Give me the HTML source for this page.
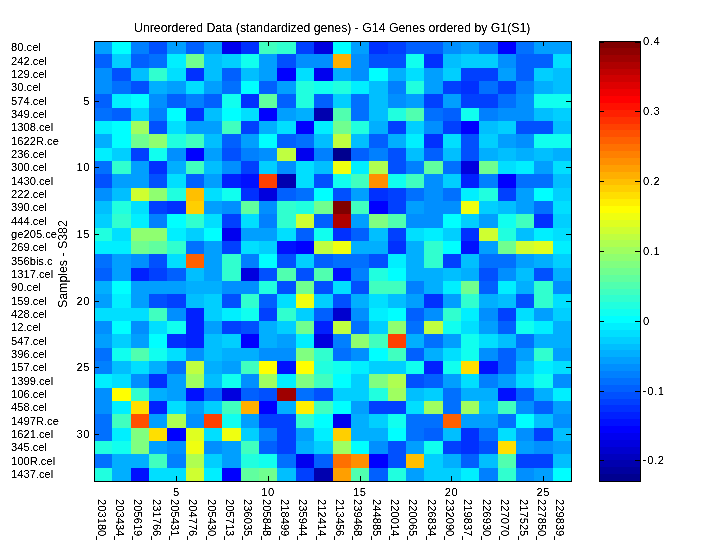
<!DOCTYPE html>
<html><head><meta charset="utf-8"><title>heatmap</title>
<style>
html,body{margin:0;padding:0;background:#fff;width:720px;height:540px;overflow:hidden;}
#wrap{position:absolute;left:0;top:0;width:720px;height:540px;overflow:hidden;background:#fff;}
body{width:720px;height:540px;position:relative;overflow:hidden;font-family:"Liberation Sans",sans-serif;font-size:11.2px;color:#000;}
.t{position:absolute;white-space:nowrap;line-height:1;filter:url(#thr);}
svg{position:absolute;left:0;top:0;}
.cb{letter-spacing:0.6px;}
.yt,.xt{letter-spacing:0.5px;}
</style></head><body><div id="wrap">

<svg width="720" height="540" viewBox="0 0 720 540" shape-rendering="crispEdges">
<defs><filter id="thr" x="-10%" y="-20%" width="120%" height="140%" color-interpolation-filters="sRGB"><feComponentTransfer><feFuncA type="linear" slope="2.6" intercept="-0.7"/></feComponentTransfer></filter></defs>
<rect x="94" y="41" width="18" height="13" fill="#009FFF"/>
<rect x="112" y="41" width="19" height="13" fill="#00FFFF"/>
<rect x="131" y="41" width="18" height="13" fill="#0080FF"/>
<rect x="149" y="41" width="18" height="13" fill="#0050FF"/>
<rect x="167" y="41" width="19" height="13" fill="#009FFF"/>
<rect x="186" y="41" width="18" height="13" fill="#0060FF"/>
<rect x="204" y="41" width="18" height="13" fill="#009FFF"/>
<rect x="222" y="41" width="19" height="13" fill="#0000EF"/>
<rect x="241" y="41" width="18" height="13" fill="#0030FF"/>
<rect x="259" y="41" width="18" height="13" fill="#40FFBF"/>
<rect x="277" y="41" width="19" height="13" fill="#30FFCF"/>
<rect x="296" y="41" width="18" height="13" fill="#0040FF"/>
<rect x="314" y="41" width="19" height="13" fill="#0000DF"/>
<rect x="333" y="41" width="18" height="13" fill="#00FFFF"/>
<rect x="351" y="41" width="18" height="13" fill="#009FFF"/>
<rect x="369" y="41" width="19" height="13" fill="#0030FF"/>
<rect x="388" y="41" width="18" height="13" fill="#0040FF"/>
<rect x="406" y="41" width="37" height="13" fill="#0060FF"/>
<rect x="443" y="41" width="18" height="13" fill="#008FFF"/>
<rect x="461" y="41" width="18" height="13" fill="#009FFF"/>
<rect x="479" y="41" width="19" height="13" fill="#0070FF"/>
<rect x="498" y="41" width="18" height="13" fill="#0000FF"/>
<rect x="516" y="41" width="18" height="13" fill="#0070FF"/>
<rect x="534" y="41" width="38" height="13" fill="#009FFF"/>
<rect x="94" y="54" width="18" height="14" fill="#0060FF"/>
<rect x="112" y="54" width="19" height="14" fill="#00CFFF"/>
<rect x="131" y="54" width="18" height="14" fill="#0060FF"/>
<rect x="149" y="54" width="18" height="14" fill="#0070FF"/>
<rect x="167" y="54" width="19" height="14" fill="#00EFFF"/>
<rect x="186" y="54" width="18" height="14" fill="#70FF8F"/>
<rect x="204" y="54" width="18" height="14" fill="#00BFFF"/>
<rect x="222" y="54" width="19" height="14" fill="#00CFFF"/>
<rect x="241" y="54" width="18" height="14" fill="#10FFEF"/>
<rect x="259" y="54" width="18" height="14" fill="#009FFF"/>
<rect x="277" y="54" width="19" height="14" fill="#0050FF"/>
<rect x="296" y="54" width="37" height="14" fill="#008FFF"/>
<rect x="333" y="54" width="18" height="14" fill="#FFAF00"/>
<rect x="351" y="54" width="18" height="14" fill="#008FFF"/>
<rect x="369" y="54" width="37" height="14" fill="#0050FF"/>
<rect x="406" y="54" width="18" height="14" fill="#10FFEF"/>
<rect x="424" y="54" width="19" height="14" fill="#0030FF"/>
<rect x="443" y="54" width="18" height="14" fill="#00BFFF"/>
<rect x="461" y="54" width="37" height="14" fill="#00CFFF"/>
<rect x="498" y="54" width="18" height="14" fill="#008FFF"/>
<rect x="516" y="54" width="37" height="14" fill="#0060FF"/>
<rect x="553" y="54" width="19" height="14" fill="#00DFFF"/>
<rect x="94" y="68" width="18" height="13" fill="#008FFF"/>
<rect x="112" y="68" width="19" height="13" fill="#0050FF"/>
<rect x="131" y="68" width="18" height="13" fill="#00BFFF"/>
<rect x="149" y="68" width="18" height="13" fill="#30FFCF"/>
<rect x="167" y="68" width="19" height="13" fill="#00DFFF"/>
<rect x="186" y="68" width="18" height="13" fill="#0030FF"/>
<rect x="204" y="68" width="18" height="13" fill="#00BFFF"/>
<rect x="222" y="68" width="19" height="13" fill="#0060FF"/>
<rect x="241" y="68" width="18" height="13" fill="#00BFFF"/>
<rect x="259" y="68" width="18" height="13" fill="#009FFF"/>
<rect x="277" y="68" width="19" height="13" fill="#0000FF"/>
<rect x="296" y="68" width="18" height="13" fill="#00DFFF"/>
<rect x="314" y="68" width="19" height="13" fill="#0000EF"/>
<rect x="333" y="68" width="18" height="13" fill="#00AFFF"/>
<rect x="351" y="68" width="18" height="13" fill="#008FFF"/>
<rect x="369" y="68" width="19" height="13" fill="#00FFFF"/>
<rect x="388" y="68" width="18" height="13" fill="#00AFFF"/>
<rect x="406" y="68" width="18" height="13" fill="#00DFFF"/>
<rect x="424" y="68" width="19" height="13" fill="#009FFF"/>
<rect x="443" y="68" width="18" height="13" fill="#00CFFF"/>
<rect x="461" y="68" width="37" height="13" fill="#0040FF"/>
<rect x="498" y="68" width="18" height="13" fill="#009FFF"/>
<rect x="516" y="68" width="18" height="13" fill="#0060FF"/>
<rect x="534" y="68" width="19" height="13" fill="#00CFFF"/>
<rect x="553" y="68" width="19" height="13" fill="#00BFFF"/>
<rect x="94" y="81" width="18" height="13" fill="#008FFF"/>
<rect x="112" y="81" width="19" height="13" fill="#0070FF"/>
<rect x="131" y="81" width="18" height="13" fill="#0050FF"/>
<rect x="149" y="81" width="18" height="13" fill="#00AFFF"/>
<rect x="167" y="81" width="19" height="13" fill="#009FFF"/>
<rect x="186" y="81" width="18" height="13" fill="#00DFFF"/>
<rect x="204" y="81" width="18" height="13" fill="#009FFF"/>
<rect x="222" y="81" width="19" height="13" fill="#0070FF"/>
<rect x="241" y="81" width="18" height="13" fill="#00FFFF"/>
<rect x="259" y="81" width="18" height="13" fill="#0060FF"/>
<rect x="277" y="81" width="19" height="13" fill="#009FFF"/>
<rect x="296" y="81" width="18" height="13" fill="#20FFDF"/>
<rect x="314" y="81" width="19" height="13" fill="#10FFEF"/>
<rect x="333" y="81" width="18" height="13" fill="#20FFDF"/>
<rect x="351" y="81" width="18" height="13" fill="#00EFFF"/>
<rect x="369" y="81" width="19" height="13" fill="#00BFFF"/>
<rect x="388" y="81" width="18" height="13" fill="#0080FF"/>
<rect x="406" y="81" width="18" height="13" fill="#20FFDF"/>
<rect x="424" y="81" width="19" height="13" fill="#009FFF"/>
<rect x="443" y="81" width="18" height="13" fill="#0040FF"/>
<rect x="461" y="81" width="18" height="13" fill="#0030FF"/>
<rect x="479" y="81" width="19" height="13" fill="#0070FF"/>
<rect x="498" y="81" width="18" height="13" fill="#0040FF"/>
<rect x="516" y="81" width="18" height="13" fill="#0080FF"/>
<rect x="534" y="81" width="19" height="13" fill="#00AFFF"/>
<rect x="553" y="81" width="19" height="13" fill="#00BFFF"/>
<rect x="94" y="94" width="18" height="14" fill="#0060FF"/>
<rect x="112" y="94" width="19" height="14" fill="#00EFFF"/>
<rect x="131" y="94" width="18" height="14" fill="#00FFFF"/>
<rect x="149" y="94" width="18" height="14" fill="#008FFF"/>
<rect x="167" y="94" width="19" height="14" fill="#0060FF"/>
<rect x="186" y="94" width="18" height="14" fill="#0080FF"/>
<rect x="204" y="94" width="18" height="14" fill="#0060FF"/>
<rect x="222" y="94" width="19" height="14" fill="#10FFEF"/>
<rect x="241" y="94" width="18" height="14" fill="#0030FF"/>
<rect x="259" y="94" width="18" height="14" fill="#60FF9F"/>
<rect x="277" y="94" width="19" height="14" fill="#0060FF"/>
<rect x="296" y="94" width="18" height="14" fill="#20FFDF"/>
<rect x="314" y="94" width="19" height="14" fill="#0060FF"/>
<rect x="333" y="94" width="18" height="14" fill="#00CFFF"/>
<rect x="351" y="94" width="18" height="14" fill="#0070FF"/>
<rect x="369" y="94" width="19" height="14" fill="#00BFFF"/>
<rect x="388" y="94" width="18" height="14" fill="#008FFF"/>
<rect x="406" y="94" width="18" height="14" fill="#009FFF"/>
<rect x="424" y="94" width="19" height="14" fill="#0040FF"/>
<rect x="443" y="94" width="18" height="14" fill="#009FFF"/>
<rect x="461" y="94" width="37" height="14" fill="#0040FF"/>
<rect x="498" y="94" width="18" height="14" fill="#0070FF"/>
<rect x="516" y="94" width="18" height="14" fill="#008FFF"/>
<rect x="534" y="94" width="38" height="14" fill="#10FFEF"/>
<rect x="94" y="108" width="18" height="13" fill="#0070FF"/>
<rect x="112" y="108" width="19" height="13" fill="#0060FF"/>
<rect x="131" y="108" width="18" height="13" fill="#00CFFF"/>
<rect x="149" y="108" width="18" height="13" fill="#0080FF"/>
<rect x="167" y="108" width="19" height="13" fill="#00FFFF"/>
<rect x="186" y="108" width="18" height="13" fill="#0030FF"/>
<rect x="204" y="108" width="18" height="13" fill="#00BFFF"/>
<rect x="222" y="108" width="19" height="13" fill="#00FFFF"/>
<rect x="241" y="108" width="18" height="13" fill="#00DFFF"/>
<rect x="259" y="108" width="18" height="13" fill="#0000FF"/>
<rect x="277" y="108" width="19" height="13" fill="#009FFF"/>
<rect x="296" y="108" width="18" height="13" fill="#00AFFF"/>
<rect x="314" y="108" width="19" height="13" fill="#0000AF"/>
<rect x="333" y="108" width="18" height="13" fill="#50FFAF"/>
<rect x="351" y="108" width="18" height="13" fill="#0070FF"/>
<rect x="369" y="108" width="19" height="13" fill="#00BFFF"/>
<rect x="388" y="108" width="18" height="13" fill="#20FFDF"/>
<rect x="406" y="108" width="18" height="13" fill="#50FFAF"/>
<rect x="424" y="108" width="19" height="13" fill="#0070FF"/>
<rect x="443" y="108" width="18" height="13" fill="#0060FF"/>
<rect x="461" y="108" width="18" height="13" fill="#10FFEF"/>
<rect x="479" y="108" width="19" height="13" fill="#0080FF"/>
<rect x="498" y="108" width="36" height="13" fill="#008FFF"/>
<rect x="534" y="108" width="19" height="13" fill="#00BFFF"/>
<rect x="553" y="108" width="19" height="13" fill="#00CFFF"/>
<rect x="94" y="121" width="18" height="13" fill="#00EFFF"/>
<rect x="112" y="121" width="19" height="13" fill="#00FFFF"/>
<rect x="131" y="121" width="18" height="13" fill="#9FFF60"/>
<rect x="149" y="121" width="18" height="13" fill="#0050FF"/>
<rect x="167" y="121" width="19" height="13" fill="#00DFFF"/>
<rect x="186" y="121" width="36" height="13" fill="#009FFF"/>
<rect x="222" y="121" width="19" height="13" fill="#40FFBF"/>
<rect x="241" y="121" width="18" height="13" fill="#0040FF"/>
<rect x="259" y="121" width="18" height="13" fill="#00AFFF"/>
<rect x="277" y="121" width="19" height="13" fill="#00DFFF"/>
<rect x="296" y="121" width="18" height="13" fill="#0000FF"/>
<rect x="314" y="121" width="19" height="13" fill="#00EFFF"/>
<rect x="333" y="121" width="18" height="13" fill="#70FF8F"/>
<rect x="351" y="121" width="18" height="13" fill="#20FFDF"/>
<rect x="369" y="121" width="19" height="13" fill="#00AFFF"/>
<rect x="388" y="121" width="18" height="13" fill="#0040FF"/>
<rect x="406" y="121" width="18" height="13" fill="#00CFFF"/>
<rect x="424" y="121" width="19" height="13" fill="#008FFF"/>
<rect x="443" y="121" width="18" height="13" fill="#0040FF"/>
<rect x="461" y="121" width="18" height="13" fill="#0000FF"/>
<rect x="479" y="121" width="19" height="13" fill="#00BFFF"/>
<rect x="498" y="121" width="18" height="13" fill="#00CFFF"/>
<rect x="516" y="121" width="37" height="13" fill="#0050FF"/>
<rect x="553" y="121" width="19" height="13" fill="#00BFFF"/>
<rect x="94" y="134" width="18" height="14" fill="#00AFFF"/>
<rect x="112" y="134" width="19" height="14" fill="#00FFFF"/>
<rect x="131" y="134" width="18" height="14" fill="#70FF8F"/>
<rect x="149" y="134" width="18" height="14" fill="#8FFF70"/>
<rect x="167" y="134" width="19" height="14" fill="#20FFDF"/>
<rect x="186" y="134" width="18" height="14" fill="#40FFBF"/>
<rect x="204" y="134" width="18" height="14" fill="#00BFFF"/>
<rect x="222" y="134" width="19" height="14" fill="#0060FF"/>
<rect x="241" y="134" width="18" height="14" fill="#009FFF"/>
<rect x="259" y="134" width="18" height="14" fill="#00FFFF"/>
<rect x="277" y="134" width="19" height="14" fill="#0060FF"/>
<rect x="296" y="134" width="18" height="14" fill="#0070FF"/>
<rect x="314" y="134" width="19" height="14" fill="#00BFFF"/>
<rect x="333" y="134" width="18" height="14" fill="#BFFF40"/>
<rect x="351" y="134" width="18" height="14" fill="#00BFFF"/>
<rect x="369" y="134" width="19" height="14" fill="#0060FF"/>
<rect x="388" y="134" width="18" height="14" fill="#00AFFF"/>
<rect x="406" y="134" width="18" height="14" fill="#00EFFF"/>
<rect x="424" y="134" width="19" height="14" fill="#0030FF"/>
<rect x="443" y="134" width="18" height="14" fill="#00DFFF"/>
<rect x="461" y="134" width="18" height="14" fill="#0050FF"/>
<rect x="479" y="134" width="19" height="14" fill="#00CFFF"/>
<rect x="498" y="134" width="18" height="14" fill="#009FFF"/>
<rect x="516" y="134" width="18" height="14" fill="#008FFF"/>
<rect x="534" y="134" width="38" height="14" fill="#10FFEF"/>
<rect x="94" y="148" width="18" height="13" fill="#00EFFF"/>
<rect x="112" y="148" width="19" height="13" fill="#00CFFF"/>
<rect x="131" y="148" width="18" height="13" fill="#0040FF"/>
<rect x="149" y="148" width="18" height="13" fill="#10FFEF"/>
<rect x="167" y="148" width="19" height="13" fill="#008FFF"/>
<rect x="186" y="148" width="18" height="13" fill="#0000FF"/>
<rect x="204" y="148" width="18" height="13" fill="#009FFF"/>
<rect x="222" y="148" width="19" height="13" fill="#0050FF"/>
<rect x="241" y="148" width="18" height="13" fill="#0080FF"/>
<rect x="259" y="148" width="18" height="13" fill="#008FFF"/>
<rect x="277" y="148" width="19" height="13" fill="#BFFF40"/>
<rect x="296" y="148" width="18" height="13" fill="#0000EF"/>
<rect x="314" y="148" width="19" height="13" fill="#0080FF"/>
<rect x="333" y="148" width="18" height="13" fill="#00008F"/>
<rect x="351" y="148" width="18" height="13" fill="#0060FF"/>
<rect x="369" y="148" width="19" height="13" fill="#0080FF"/>
<rect x="388" y="148" width="18" height="13" fill="#0050FF"/>
<rect x="406" y="148" width="18" height="13" fill="#00BFFF"/>
<rect x="424" y="148" width="19" height="13" fill="#0060FF"/>
<rect x="443" y="148" width="18" height="13" fill="#00BFFF"/>
<rect x="461" y="148" width="18" height="13" fill="#0050FF"/>
<rect x="479" y="148" width="19" height="13" fill="#00AFFF"/>
<rect x="498" y="148" width="18" height="13" fill="#00BFFF"/>
<rect x="516" y="148" width="18" height="13" fill="#00AFFF"/>
<rect x="534" y="148" width="19" height="13" fill="#00BFFF"/>
<rect x="553" y="148" width="19" height="13" fill="#00AFFF"/>
<rect x="94" y="161" width="18" height="13" fill="#0070FF"/>
<rect x="112" y="161" width="19" height="13" fill="#30FFCF"/>
<rect x="131" y="161" width="18" height="13" fill="#009FFF"/>
<rect x="149" y="161" width="18" height="13" fill="#0030FF"/>
<rect x="167" y="161" width="19" height="13" fill="#00AFFF"/>
<rect x="186" y="161" width="18" height="13" fill="#40FFBF"/>
<rect x="204" y="161" width="18" height="13" fill="#00BFFF"/>
<rect x="222" y="161" width="19" height="13" fill="#008FFF"/>
<rect x="241" y="161" width="18" height="13" fill="#0040FF"/>
<rect x="259" y="161" width="18" height="13" fill="#00CFFF"/>
<rect x="277" y="161" width="19" height="13" fill="#008FFF"/>
<rect x="296" y="161" width="18" height="13" fill="#00DFFF"/>
<rect x="314" y="161" width="19" height="13" fill="#00BFFF"/>
<rect x="333" y="161" width="18" height="13" fill="#EFFF10"/>
<rect x="351" y="161" width="18" height="13" fill="#00EFFF"/>
<rect x="369" y="161" width="19" height="13" fill="#AFFF50"/>
<rect x="388" y="161" width="18" height="13" fill="#0050FF"/>
<rect x="406" y="161" width="18" height="13" fill="#0080FF"/>
<rect x="424" y="161" width="19" height="13" fill="#60FF9F"/>
<rect x="443" y="161" width="18" height="13" fill="#0070FF"/>
<rect x="461" y="161" width="18" height="13" fill="#0000DF"/>
<rect x="479" y="161" width="19" height="13" fill="#70FF8F"/>
<rect x="498" y="161" width="18" height="13" fill="#00DFFF"/>
<rect x="516" y="161" width="18" height="13" fill="#00EFFF"/>
<rect x="534" y="161" width="19" height="13" fill="#009FFF"/>
<rect x="553" y="161" width="19" height="13" fill="#00DFFF"/>
<rect x="94" y="174" width="18" height="14" fill="#0050FF"/>
<rect x="112" y="174" width="37" height="14" fill="#009FFF"/>
<rect x="149" y="174" width="18" height="14" fill="#0050FF"/>
<rect x="167" y="174" width="19" height="14" fill="#00DFFF"/>
<rect x="186" y="174" width="18" height="14" fill="#0060FF"/>
<rect x="204" y="174" width="18" height="14" fill="#009FFF"/>
<rect x="222" y="174" width="19" height="14" fill="#0020FF"/>
<rect x="241" y="174" width="18" height="14" fill="#0010FF"/>
<rect x="259" y="174" width="18" height="14" fill="#FF4000"/>
<rect x="277" y="174" width="19" height="14" fill="#0000AF"/>
<rect x="296" y="174" width="18" height="14" fill="#00DFFF"/>
<rect x="314" y="174" width="19" height="14" fill="#0050FF"/>
<rect x="333" y="174" width="18" height="14" fill="#10FFEF"/>
<rect x="351" y="174" width="18" height="14" fill="#40FFBF"/>
<rect x="369" y="174" width="19" height="14" fill="#FF8F00"/>
<rect x="388" y="174" width="18" height="14" fill="#10FFEF"/>
<rect x="406" y="174" width="18" height="14" fill="#40FFBF"/>
<rect x="424" y="174" width="19" height="14" fill="#008FFF"/>
<rect x="443" y="174" width="18" height="14" fill="#00CFFF"/>
<rect x="461" y="174" width="18" height="14" fill="#0020FF"/>
<rect x="479" y="174" width="19" height="14" fill="#0080FF"/>
<rect x="498" y="174" width="18" height="14" fill="#0000FF"/>
<rect x="516" y="174" width="37" height="14" fill="#0070FF"/>
<rect x="553" y="174" width="19" height="14" fill="#00BFFF"/>
<rect x="94" y="188" width="18" height="13" fill="#008FFF"/>
<rect x="112" y="188" width="19" height="13" fill="#00BFFF"/>
<rect x="131" y="188" width="18" height="13" fill="#CFFF30"/>
<rect x="149" y="188" width="18" height="13" fill="#8FFF70"/>
<rect x="167" y="188" width="19" height="13" fill="#20FFDF"/>
<rect x="186" y="188" width="18" height="13" fill="#FFBF00"/>
<rect x="204" y="188" width="18" height="13" fill="#00DFFF"/>
<rect x="222" y="188" width="19" height="13" fill="#10FFEF"/>
<rect x="241" y="188" width="18" height="13" fill="#0030FF"/>
<rect x="259" y="188" width="18" height="13" fill="#0000DF"/>
<rect x="277" y="188" width="19" height="13" fill="#0060FF"/>
<rect x="296" y="188" width="18" height="13" fill="#0070FF"/>
<rect x="314" y="188" width="19" height="13" fill="#00FFFF"/>
<rect x="333" y="188" width="18" height="13" fill="#0050FF"/>
<rect x="351" y="188" width="18" height="13" fill="#009FFF"/>
<rect x="369" y="188" width="19" height="13" fill="#0030FF"/>
<rect x="388" y="188" width="18" height="13" fill="#0040FF"/>
<rect x="406" y="188" width="18" height="13" fill="#0070FF"/>
<rect x="424" y="188" width="19" height="13" fill="#008FFF"/>
<rect x="443" y="188" width="18" height="13" fill="#0070FF"/>
<rect x="461" y="188" width="18" height="13" fill="#00EFFF"/>
<rect x="479" y="188" width="19" height="13" fill="#20FFDF"/>
<rect x="498" y="188" width="18" height="13" fill="#0040FF"/>
<rect x="516" y="188" width="18" height="13" fill="#009FFF"/>
<rect x="534" y="188" width="19" height="13" fill="#00FFFF"/>
<rect x="553" y="188" width="19" height="13" fill="#00CFFF"/>
<rect x="94" y="201" width="18" height="13" fill="#00BFFF"/>
<rect x="112" y="201" width="19" height="13" fill="#20FFDF"/>
<rect x="131" y="201" width="18" height="13" fill="#00DFFF"/>
<rect x="149" y="201" width="18" height="13" fill="#0040FF"/>
<rect x="167" y="201" width="19" height="13" fill="#0030FF"/>
<rect x="186" y="201" width="18" height="13" fill="#FFCF00"/>
<rect x="204" y="201" width="18" height="13" fill="#009FFF"/>
<rect x="222" y="201" width="19" height="13" fill="#008FFF"/>
<rect x="241" y="201" width="18" height="13" fill="#60FF9F"/>
<rect x="259" y="201" width="18" height="13" fill="#008FFF"/>
<rect x="277" y="201" width="19" height="13" fill="#30FFCF"/>
<rect x="296" y="201" width="18" height="13" fill="#20FFDF"/>
<rect x="314" y="201" width="19" height="13" fill="#70FF8F"/>
<rect x="333" y="201" width="18" height="13" fill="#800000"/>
<rect x="351" y="201" width="18" height="13" fill="#40FFBF"/>
<rect x="369" y="201" width="19" height="13" fill="#0000FF"/>
<rect x="388" y="201" width="18" height="13" fill="#0040FF"/>
<rect x="406" y="201" width="18" height="13" fill="#009FFF"/>
<rect x="424" y="201" width="37" height="13" fill="#008FFF"/>
<rect x="461" y="201" width="18" height="13" fill="#EFFF10"/>
<rect x="479" y="201" width="19" height="13" fill="#00CFFF"/>
<rect x="498" y="201" width="18" height="13" fill="#00BFFF"/>
<rect x="516" y="201" width="18" height="13" fill="#009FFF"/>
<rect x="534" y="201" width="19" height="13" fill="#0070FF"/>
<rect x="553" y="201" width="19" height="13" fill="#00DFFF"/>
<rect x="94" y="214" width="18" height="14" fill="#00CFFF"/>
<rect x="112" y="214" width="19" height="14" fill="#30FFCF"/>
<rect x="131" y="214" width="18" height="14" fill="#00EFFF"/>
<rect x="149" y="214" width="18" height="14" fill="#0080FF"/>
<rect x="167" y="214" width="19" height="14" fill="#00FFFF"/>
<rect x="186" y="214" width="18" height="14" fill="#30FFCF"/>
<rect x="204" y="214" width="18" height="14" fill="#00DFFF"/>
<rect x="222" y="214" width="19" height="14" fill="#0040FF"/>
<rect x="241" y="214" width="18" height="14" fill="#00DFFF"/>
<rect x="259" y="214" width="18" height="14" fill="#0080FF"/>
<rect x="277" y="214" width="19" height="14" fill="#30FFCF"/>
<rect x="296" y="214" width="18" height="14" fill="#CFFF30"/>
<rect x="314" y="214" width="19" height="14" fill="#0060FF"/>
<rect x="333" y="214" width="18" height="14" fill="#AF0000"/>
<rect x="351" y="214" width="18" height="14" fill="#009FFF"/>
<rect x="369" y="214" width="19" height="14" fill="#80FF80"/>
<rect x="388" y="214" width="18" height="14" fill="#50FFAF"/>
<rect x="406" y="214" width="37" height="14" fill="#008FFF"/>
<rect x="443" y="214" width="18" height="14" fill="#00FFFF"/>
<rect x="461" y="214" width="18" height="14" fill="#00CFFF"/>
<rect x="479" y="214" width="19" height="14" fill="#009FFF"/>
<rect x="498" y="214" width="18" height="14" fill="#10FFEF"/>
<rect x="516" y="214" width="18" height="14" fill="#40FFBF"/>
<rect x="534" y="214" width="19" height="14" fill="#0030FF"/>
<rect x="553" y="214" width="19" height="14" fill="#00CFFF"/>
<rect x="94" y="228" width="18" height="13" fill="#20FFDF"/>
<rect x="112" y="228" width="19" height="13" fill="#00DFFF"/>
<rect x="131" y="228" width="36" height="13" fill="#8FFF70"/>
<rect x="167" y="228" width="19" height="13" fill="#00EFFF"/>
<rect x="186" y="228" width="18" height="13" fill="#00CFFF"/>
<rect x="204" y="228" width="18" height="13" fill="#00FFFF"/>
<rect x="222" y="228" width="19" height="13" fill="#0000EF"/>
<rect x="241" y="228" width="36" height="13" fill="#009FFF"/>
<rect x="277" y="228" width="19" height="13" fill="#00DFFF"/>
<rect x="296" y="228" width="18" height="13" fill="#0060FF"/>
<rect x="314" y="228" width="19" height="13" fill="#10FFEF"/>
<rect x="333" y="228" width="18" height="13" fill="#0030FF"/>
<rect x="351" y="228" width="18" height="13" fill="#0060FF"/>
<rect x="369" y="228" width="19" height="13" fill="#00BFFF"/>
<rect x="388" y="228" width="18" height="13" fill="#0040FF"/>
<rect x="406" y="228" width="18" height="13" fill="#00DFFF"/>
<rect x="424" y="228" width="19" height="13" fill="#00EFFF"/>
<rect x="443" y="228" width="18" height="13" fill="#00CFFF"/>
<rect x="461" y="228" width="18" height="13" fill="#0030FF"/>
<rect x="479" y="228" width="19" height="13" fill="#CFFF30"/>
<rect x="498" y="228" width="18" height="13" fill="#20FFDF"/>
<rect x="516" y="228" width="18" height="13" fill="#00BFFF"/>
<rect x="534" y="228" width="19" height="13" fill="#00EFFF"/>
<rect x="553" y="228" width="19" height="13" fill="#00DFFF"/>
<rect x="94" y="241" width="37" height="13" fill="#00EFFF"/>
<rect x="131" y="241" width="18" height="13" fill="#70FF8F"/>
<rect x="149" y="241" width="18" height="13" fill="#60FF9F"/>
<rect x="167" y="241" width="19" height="13" fill="#30FFCF"/>
<rect x="186" y="241" width="18" height="13" fill="#0070FF"/>
<rect x="204" y="241" width="18" height="13" fill="#009FFF"/>
<rect x="222" y="241" width="19" height="13" fill="#0040FF"/>
<rect x="241" y="241" width="18" height="13" fill="#00DFFF"/>
<rect x="259" y="241" width="18" height="13" fill="#00CFFF"/>
<rect x="277" y="241" width="19" height="13" fill="#0010FF"/>
<rect x="296" y="241" width="18" height="13" fill="#0000FF"/>
<rect x="314" y="241" width="19" height="13" fill="#BFFF40"/>
<rect x="333" y="241" width="18" height="13" fill="#EFFF10"/>
<rect x="351" y="241" width="37" height="13" fill="#00AFFF"/>
<rect x="388" y="241" width="18" height="13" fill="#0030FF"/>
<rect x="406" y="241" width="18" height="13" fill="#00AFFF"/>
<rect x="424" y="241" width="19" height="13" fill="#30FFCF"/>
<rect x="443" y="241" width="18" height="13" fill="#00FFFF"/>
<rect x="461" y="241" width="18" height="13" fill="#0010FF"/>
<rect x="479" y="241" width="19" height="13" fill="#009FFF"/>
<rect x="498" y="241" width="18" height="13" fill="#70FF8F"/>
<rect x="516" y="241" width="18" height="13" fill="#CFFF30"/>
<rect x="534" y="241" width="19" height="13" fill="#DFFF20"/>
<rect x="553" y="241" width="19" height="13" fill="#00EFFF"/>
<rect x="94" y="254" width="18" height="14" fill="#0070FF"/>
<rect x="112" y="254" width="19" height="14" fill="#009FFF"/>
<rect x="131" y="254" width="18" height="14" fill="#008FFF"/>
<rect x="149" y="254" width="18" height="14" fill="#0050FF"/>
<rect x="167" y="254" width="19" height="14" fill="#00DFFF"/>
<rect x="186" y="254" width="18" height="14" fill="#FF6000"/>
<rect x="204" y="254" width="18" height="14" fill="#009FFF"/>
<rect x="222" y="254" width="19" height="14" fill="#30FFCF"/>
<rect x="241" y="254" width="18" height="14" fill="#0080FF"/>
<rect x="259" y="254" width="18" height="14" fill="#00FFFF"/>
<rect x="277" y="254" width="19" height="14" fill="#0050FF"/>
<rect x="296" y="254" width="18" height="14" fill="#00CFFF"/>
<rect x="314" y="254" width="19" height="14" fill="#0060FF"/>
<rect x="333" y="254" width="36" height="14" fill="#0070FF"/>
<rect x="369" y="254" width="19" height="14" fill="#0050FF"/>
<rect x="388" y="254" width="18" height="14" fill="#00EFFF"/>
<rect x="406" y="254" width="18" height="14" fill="#00AFFF"/>
<rect x="424" y="254" width="19" height="14" fill="#30FFCF"/>
<rect x="443" y="254" width="18" height="14" fill="#0040FF"/>
<rect x="461" y="254" width="18" height="14" fill="#00BFFF"/>
<rect x="479" y="254" width="37" height="14" fill="#0070FF"/>
<rect x="516" y="254" width="18" height="14" fill="#009FFF"/>
<rect x="534" y="254" width="19" height="14" fill="#00AFFF"/>
<rect x="553" y="254" width="19" height="14" fill="#00CFFF"/>
<rect x="94" y="268" width="18" height="13" fill="#0060FF"/>
<rect x="112" y="268" width="19" height="13" fill="#009FFF"/>
<rect x="131" y="268" width="18" height="13" fill="#0020FF"/>
<rect x="149" y="268" width="18" height="13" fill="#0040FF"/>
<rect x="167" y="268" width="19" height="13" fill="#0060FF"/>
<rect x="186" y="268" width="18" height="13" fill="#00BFFF"/>
<rect x="204" y="268" width="18" height="13" fill="#009FFF"/>
<rect x="222" y="268" width="19" height="13" fill="#30FFCF"/>
<rect x="241" y="268" width="18" height="13" fill="#0000DF"/>
<rect x="259" y="268" width="18" height="13" fill="#0050FF"/>
<rect x="277" y="268" width="19" height="13" fill="#50FFAF"/>
<rect x="296" y="268" width="18" height="13" fill="#0050FF"/>
<rect x="314" y="268" width="19" height="13" fill="#50FFAF"/>
<rect x="333" y="268" width="18" height="13" fill="#0010FF"/>
<rect x="351" y="268" width="18" height="13" fill="#0080FF"/>
<rect x="369" y="268" width="19" height="13" fill="#20FFDF"/>
<rect x="388" y="268" width="18" height="13" fill="#00FFFF"/>
<rect x="406" y="268" width="37" height="13" fill="#00AFFF"/>
<rect x="443" y="268" width="18" height="13" fill="#00BFFF"/>
<rect x="461" y="268" width="18" height="13" fill="#00AFFF"/>
<rect x="479" y="268" width="19" height="13" fill="#0050FF"/>
<rect x="498" y="268" width="18" height="13" fill="#008FFF"/>
<rect x="516" y="268" width="18" height="13" fill="#00BFFF"/>
<rect x="534" y="268" width="19" height="13" fill="#0050FF"/>
<rect x="553" y="268" width="19" height="13" fill="#00AFFF"/>
<rect x="94" y="281" width="18" height="13" fill="#00AFFF"/>
<rect x="112" y="281" width="19" height="13" fill="#00FFFF"/>
<rect x="131" y="281" width="55" height="13" fill="#009FFF"/>
<rect x="186" y="281" width="36" height="13" fill="#00AFFF"/>
<rect x="222" y="281" width="37" height="13" fill="#008FFF"/>
<rect x="259" y="281" width="18" height="13" fill="#20FFDF"/>
<rect x="277" y="281" width="19" height="13" fill="#0050FF"/>
<rect x="296" y="281" width="18" height="13" fill="#70FF8F"/>
<rect x="314" y="281" width="19" height="13" fill="#0050FF"/>
<rect x="333" y="281" width="18" height="13" fill="#00DFFF"/>
<rect x="351" y="281" width="18" height="13" fill="#0050FF"/>
<rect x="369" y="281" width="37" height="13" fill="#40FFBF"/>
<rect x="406" y="281" width="18" height="13" fill="#0080FF"/>
<rect x="424" y="281" width="19" height="13" fill="#00AFFF"/>
<rect x="443" y="281" width="18" height="13" fill="#00EFFF"/>
<rect x="461" y="281" width="18" height="13" fill="#70FF8F"/>
<rect x="479" y="281" width="19" height="13" fill="#0060FF"/>
<rect x="498" y="281" width="18" height="13" fill="#00EFFF"/>
<rect x="516" y="281" width="18" height="13" fill="#00AFFF"/>
<rect x="534" y="281" width="19" height="13" fill="#30FFCF"/>
<rect x="553" y="281" width="19" height="13" fill="#008FFF"/>
<rect x="94" y="294" width="18" height="14" fill="#009FFF"/>
<rect x="112" y="294" width="19" height="14" fill="#00EFFF"/>
<rect x="131" y="294" width="18" height="14" fill="#009FFF"/>
<rect x="149" y="294" width="18" height="14" fill="#0050FF"/>
<rect x="167" y="294" width="19" height="14" fill="#0040FF"/>
<rect x="186" y="294" width="18" height="14" fill="#00BFFF"/>
<rect x="204" y="294" width="18" height="14" fill="#00CFFF"/>
<rect x="222" y="294" width="19" height="14" fill="#0050FF"/>
<rect x="241" y="294" width="18" height="14" fill="#30FFCF"/>
<rect x="259" y="294" width="18" height="14" fill="#0060FF"/>
<rect x="277" y="294" width="19" height="14" fill="#00DFFF"/>
<rect x="296" y="294" width="18" height="14" fill="#EFFF10"/>
<rect x="314" y="294" width="19" height="14" fill="#00CFFF"/>
<rect x="333" y="294" width="18" height="14" fill="#0050FF"/>
<rect x="351" y="294" width="18" height="14" fill="#00AFFF"/>
<rect x="369" y="294" width="19" height="14" fill="#00DFFF"/>
<rect x="388" y="294" width="18" height="14" fill="#00BFFF"/>
<rect x="406" y="294" width="18" height="14" fill="#009FFF"/>
<rect x="424" y="294" width="19" height="14" fill="#0030FF"/>
<rect x="443" y="294" width="18" height="14" fill="#009FFF"/>
<rect x="461" y="294" width="18" height="14" fill="#30FFCF"/>
<rect x="479" y="294" width="19" height="14" fill="#00AFFF"/>
<rect x="498" y="294" width="18" height="14" fill="#00BFFF"/>
<rect x="516" y="294" width="18" height="14" fill="#0050FF"/>
<rect x="534" y="294" width="19" height="14" fill="#30FFCF"/>
<rect x="553" y="294" width="19" height="14" fill="#00DFFF"/>
<rect x="94" y="308" width="55" height="13" fill="#00DFFF"/>
<rect x="149" y="308" width="18" height="13" fill="#40FFBF"/>
<rect x="167" y="308" width="19" height="13" fill="#008FFF"/>
<rect x="186" y="308" width="18" height="13" fill="#0020FF"/>
<rect x="204" y="308" width="18" height="13" fill="#00CFFF"/>
<rect x="222" y="308" width="19" height="13" fill="#00EFFF"/>
<rect x="241" y="308" width="18" height="13" fill="#10FFEF"/>
<rect x="259" y="308" width="18" height="13" fill="#0040FF"/>
<rect x="277" y="308" width="19" height="13" fill="#30FFCF"/>
<rect x="296" y="308" width="18" height="13" fill="#00CFFF"/>
<rect x="314" y="308" width="19" height="13" fill="#0060FF"/>
<rect x="333" y="308" width="18" height="13" fill="#0000CF"/>
<rect x="351" y="308" width="18" height="13" fill="#008FFF"/>
<rect x="369" y="308" width="19" height="13" fill="#00EFFF"/>
<rect x="388" y="308" width="18" height="13" fill="#00FFFF"/>
<rect x="406" y="308" width="18" height="13" fill="#0060FF"/>
<rect x="424" y="308" width="19" height="13" fill="#008FFF"/>
<rect x="443" y="308" width="18" height="13" fill="#30FFCF"/>
<rect x="461" y="308" width="18" height="13" fill="#00EFFF"/>
<rect x="479" y="308" width="19" height="13" fill="#008FFF"/>
<rect x="498" y="308" width="18" height="13" fill="#0040FF"/>
<rect x="516" y="308" width="18" height="13" fill="#00DFFF"/>
<rect x="534" y="308" width="19" height="13" fill="#009FFF"/>
<rect x="553" y="308" width="19" height="13" fill="#00CFFF"/>
<rect x="94" y="321" width="18" height="13" fill="#008FFF"/>
<rect x="112" y="321" width="19" height="13" fill="#00FFFF"/>
<rect x="131" y="321" width="18" height="13" fill="#008FFF"/>
<rect x="149" y="321" width="18" height="13" fill="#00DFFF"/>
<rect x="167" y="321" width="19" height="13" fill="#10FFEF"/>
<rect x="186" y="321" width="18" height="13" fill="#0020FF"/>
<rect x="204" y="321" width="18" height="13" fill="#009FFF"/>
<rect x="222" y="321" width="19" height="13" fill="#0040FF"/>
<rect x="241" y="321" width="18" height="13" fill="#0050FF"/>
<rect x="259" y="321" width="18" height="13" fill="#00AFFF"/>
<rect x="277" y="321" width="19" height="13" fill="#00CFFF"/>
<rect x="296" y="321" width="18" height="13" fill="#70FF8F"/>
<rect x="314" y="321" width="19" height="13" fill="#0020FF"/>
<rect x="333" y="321" width="18" height="13" fill="#BFFF40"/>
<rect x="351" y="321" width="18" height="13" fill="#0070FF"/>
<rect x="369" y="321" width="19" height="13" fill="#00CFFF"/>
<rect x="388" y="321" width="18" height="13" fill="#8FFF70"/>
<rect x="406" y="321" width="18" height="13" fill="#0070FF"/>
<rect x="424" y="321" width="19" height="13" fill="#BFFF40"/>
<rect x="443" y="321" width="18" height="13" fill="#10FFEF"/>
<rect x="461" y="321" width="18" height="13" fill="#00DFFF"/>
<rect x="479" y="321" width="19" height="13" fill="#009FFF"/>
<rect x="498" y="321" width="18" height="13" fill="#0060FF"/>
<rect x="516" y="321" width="18" height="13" fill="#10FFEF"/>
<rect x="534" y="321" width="19" height="13" fill="#00EFFF"/>
<rect x="553" y="321" width="19" height="13" fill="#00AFFF"/>
<rect x="94" y="334" width="18" height="14" fill="#009FFF"/>
<rect x="112" y="334" width="19" height="14" fill="#00CFFF"/>
<rect x="131" y="334" width="18" height="14" fill="#009FFF"/>
<rect x="149" y="334" width="18" height="14" fill="#00FFFF"/>
<rect x="167" y="334" width="19" height="14" fill="#0030FF"/>
<rect x="186" y="334" width="18" height="14" fill="#0020FF"/>
<rect x="204" y="334" width="18" height="14" fill="#00BFFF"/>
<rect x="222" y="334" width="19" height="14" fill="#00CFFF"/>
<rect x="241" y="334" width="18" height="14" fill="#0000FF"/>
<rect x="259" y="334" width="18" height="14" fill="#00AFFF"/>
<rect x="277" y="334" width="19" height="14" fill="#009FFF"/>
<rect x="296" y="334" width="18" height="14" fill="#00EFFF"/>
<rect x="314" y="334" width="19" height="14" fill="#0000DF"/>
<rect x="333" y="334" width="18" height="14" fill="#0080FF"/>
<rect x="351" y="334" width="18" height="14" fill="#8FFF70"/>
<rect x="369" y="334" width="19" height="14" fill="#40FFBF"/>
<rect x="388" y="334" width="18" height="14" fill="#FF4000"/>
<rect x="406" y="334" width="18" height="14" fill="#00AFFF"/>
<rect x="424" y="334" width="19" height="14" fill="#0070FF"/>
<rect x="443" y="334" width="18" height="14" fill="#009FFF"/>
<rect x="461" y="334" width="18" height="14" fill="#10FFEF"/>
<rect x="479" y="334" width="19" height="14" fill="#00DFFF"/>
<rect x="498" y="334" width="18" height="14" fill="#00BFFF"/>
<rect x="516" y="334" width="18" height="14" fill="#0070FF"/>
<rect x="534" y="334" width="38" height="14" fill="#00AFFF"/>
<rect x="94" y="348" width="18" height="13" fill="#0070FF"/>
<rect x="112" y="348" width="19" height="13" fill="#10FFEF"/>
<rect x="131" y="348" width="18" height="13" fill="#50FFAF"/>
<rect x="149" y="348" width="18" height="13" fill="#10FFEF"/>
<rect x="167" y="348" width="19" height="13" fill="#00DFFF"/>
<rect x="186" y="348" width="18" height="13" fill="#008FFF"/>
<rect x="204" y="348" width="18" height="13" fill="#00BFFF"/>
<rect x="222" y="348" width="37" height="13" fill="#00AFFF"/>
<rect x="259" y="348" width="37" height="13" fill="#008FFF"/>
<rect x="296" y="348" width="18" height="13" fill="#80FF80"/>
<rect x="314" y="348" width="19" height="13" fill="#30FFCF"/>
<rect x="333" y="348" width="18" height="13" fill="#0070FF"/>
<rect x="351" y="348" width="18" height="13" fill="#008FFF"/>
<rect x="369" y="348" width="19" height="13" fill="#00FFFF"/>
<rect x="388" y="348" width="18" height="13" fill="#40FFBF"/>
<rect x="406" y="348" width="18" height="13" fill="#0060FF"/>
<rect x="424" y="348" width="19" height="13" fill="#00AFFF"/>
<rect x="443" y="348" width="18" height="13" fill="#00DFFF"/>
<rect x="461" y="348" width="18" height="13" fill="#10FFEF"/>
<rect x="479" y="348" width="19" height="13" fill="#008FFF"/>
<rect x="498" y="348" width="18" height="13" fill="#0060FF"/>
<rect x="516" y="348" width="18" height="13" fill="#009FFF"/>
<rect x="534" y="348" width="19" height="13" fill="#30FFCF"/>
<rect x="553" y="348" width="19" height="13" fill="#009FFF"/>
<rect x="94" y="361" width="18" height="13" fill="#0080FF"/>
<rect x="112" y="361" width="19" height="13" fill="#00BFFF"/>
<rect x="131" y="361" width="18" height="13" fill="#00DFFF"/>
<rect x="149" y="361" width="18" height="13" fill="#00AFFF"/>
<rect x="167" y="361" width="19" height="13" fill="#0070FF"/>
<rect x="186" y="361" width="18" height="13" fill="#BFFF40"/>
<rect x="204" y="361" width="18" height="13" fill="#00AFFF"/>
<rect x="222" y="361" width="19" height="13" fill="#009FFF"/>
<rect x="241" y="361" width="18" height="13" fill="#40FFBF"/>
<rect x="259" y="361" width="18" height="13" fill="#FFFF00"/>
<rect x="277" y="361" width="19" height="13" fill="#0010FF"/>
<rect x="296" y="361" width="18" height="13" fill="#FFFF00"/>
<rect x="314" y="361" width="19" height="13" fill="#20FFDF"/>
<rect x="333" y="361" width="18" height="13" fill="#10FFEF"/>
<rect x="351" y="361" width="18" height="13" fill="#00EFFF"/>
<rect x="369" y="361" width="37" height="13" fill="#00CFFF"/>
<rect x="406" y="361" width="18" height="13" fill="#10FFEF"/>
<rect x="424" y="361" width="19" height="13" fill="#0020FF"/>
<rect x="443" y="361" width="18" height="13" fill="#10FFEF"/>
<rect x="461" y="361" width="18" height="13" fill="#FFDF00"/>
<rect x="479" y="361" width="19" height="13" fill="#0010FF"/>
<rect x="498" y="361" width="18" height="13" fill="#0060FF"/>
<rect x="516" y="361" width="18" height="13" fill="#00BFFF"/>
<rect x="534" y="361" width="19" height="13" fill="#00EFFF"/>
<rect x="553" y="361" width="19" height="13" fill="#00DFFF"/>
<rect x="94" y="374" width="18" height="14" fill="#00EFFF"/>
<rect x="112" y="374" width="19" height="14" fill="#00DFFF"/>
<rect x="131" y="374" width="18" height="14" fill="#008FFF"/>
<rect x="149" y="374" width="18" height="14" fill="#0030FF"/>
<rect x="167" y="374" width="19" height="14" fill="#009FFF"/>
<rect x="186" y="374" width="18" height="14" fill="#9FFF60"/>
<rect x="204" y="374" width="18" height="14" fill="#00BFFF"/>
<rect x="222" y="374" width="19" height="14" fill="#10FFEF"/>
<rect x="241" y="374" width="18" height="14" fill="#008FFF"/>
<rect x="259" y="374" width="18" height="14" fill="#9FFF60"/>
<rect x="277" y="374" width="19" height="14" fill="#00EFFF"/>
<rect x="296" y="374" width="18" height="14" fill="#80FF80"/>
<rect x="314" y="374" width="19" height="14" fill="#40FFBF"/>
<rect x="333" y="374" width="18" height="14" fill="#00FFFF"/>
<rect x="351" y="374" width="18" height="14" fill="#00CFFF"/>
<rect x="369" y="374" width="19" height="14" fill="#80FF80"/>
<rect x="388" y="374" width="18" height="14" fill="#AFFF50"/>
<rect x="406" y="374" width="18" height="14" fill="#0050FF"/>
<rect x="424" y="374" width="19" height="14" fill="#0060FF"/>
<rect x="443" y="374" width="18" height="14" fill="#009FFF"/>
<rect x="461" y="374" width="18" height="14" fill="#00DFFF"/>
<rect x="479" y="374" width="19" height="14" fill="#0080FF"/>
<rect x="498" y="374" width="18" height="14" fill="#009FFF"/>
<rect x="516" y="374" width="18" height="14" fill="#00DFFF"/>
<rect x="534" y="374" width="19" height="14" fill="#10FFEF"/>
<rect x="553" y="374" width="19" height="14" fill="#008FFF"/>
<rect x="94" y="388" width="18" height="13" fill="#008FFF"/>
<rect x="112" y="388" width="19" height="13" fill="#FFFF00"/>
<rect x="131" y="388" width="18" height="13" fill="#30FFCF"/>
<rect x="149" y="388" width="18" height="13" fill="#00AFFF"/>
<rect x="167" y="388" width="19" height="13" fill="#009FFF"/>
<rect x="186" y="388" width="18" height="13" fill="#0010FF"/>
<rect x="204" y="388" width="18" height="13" fill="#0060FF"/>
<rect x="222" y="388" width="19" height="13" fill="#0000DF"/>
<rect x="241" y="388" width="18" height="13" fill="#0060FF"/>
<rect x="259" y="388" width="18" height="13" fill="#0050FF"/>
<rect x="277" y="388" width="19" height="13" fill="#9F0000"/>
<rect x="296" y="388" width="18" height="13" fill="#0070FF"/>
<rect x="314" y="388" width="19" height="13" fill="#0050FF"/>
<rect x="333" y="388" width="36" height="13" fill="#00CFFF"/>
<rect x="369" y="388" width="19" height="13" fill="#20FFDF"/>
<rect x="388" y="388" width="18" height="13" fill="#9FFF60"/>
<rect x="406" y="388" width="18" height="13" fill="#00BFFF"/>
<rect x="424" y="388" width="19" height="13" fill="#00CFFF"/>
<rect x="443" y="388" width="18" height="13" fill="#0070FF"/>
<rect x="461" y="388" width="37" height="13" fill="#00AFFF"/>
<rect x="498" y="388" width="18" height="13" fill="#0010FF"/>
<rect x="516" y="388" width="18" height="13" fill="#0060FF"/>
<rect x="534" y="388" width="19" height="13" fill="#00AFFF"/>
<rect x="553" y="388" width="19" height="13" fill="#00EFFF"/>
<rect x="94" y="401" width="18" height="13" fill="#008FFF"/>
<rect x="112" y="401" width="19" height="13" fill="#00EFFF"/>
<rect x="131" y="401" width="18" height="13" fill="#FFDF00"/>
<rect x="149" y="401" width="18" height="13" fill="#0020FF"/>
<rect x="167" y="401" width="19" height="13" fill="#00DFFF"/>
<rect x="186" y="401" width="18" height="13" fill="#009FFF"/>
<rect x="204" y="401" width="18" height="13" fill="#00CFFF"/>
<rect x="222" y="401" width="19" height="13" fill="#40FFBF"/>
<rect x="241" y="401" width="18" height="13" fill="#FFAF00"/>
<rect x="259" y="401" width="18" height="13" fill="#0000FF"/>
<rect x="277" y="401" width="19" height="13" fill="#00AFFF"/>
<rect x="296" y="401" width="18" height="13" fill="#FFEF00"/>
<rect x="314" y="401" width="19" height="13" fill="#40FFBF"/>
<rect x="333" y="401" width="18" height="13" fill="#00FFFF"/>
<rect x="351" y="401" width="18" height="13" fill="#009FFF"/>
<rect x="369" y="401" width="37" height="13" fill="#0040FF"/>
<rect x="406" y="401" width="18" height="13" fill="#00DFFF"/>
<rect x="424" y="401" width="19" height="13" fill="#9FFF60"/>
<rect x="443" y="401" width="18" height="13" fill="#0070FF"/>
<rect x="461" y="401" width="18" height="13" fill="#9FFF60"/>
<rect x="479" y="401" width="19" height="13" fill="#00BFFF"/>
<rect x="498" y="401" width="18" height="13" fill="#40FFBF"/>
<rect x="516" y="401" width="18" height="13" fill="#008FFF"/>
<rect x="534" y="401" width="19" height="13" fill="#0060FF"/>
<rect x="553" y="401" width="19" height="13" fill="#009FFF"/>
<rect x="94" y="414" width="18" height="14" fill="#0070FF"/>
<rect x="112" y="414" width="19" height="14" fill="#40FFBF"/>
<rect x="131" y="414" width="18" height="14" fill="#FF5000"/>
<rect x="149" y="414" width="18" height="14" fill="#009FFF"/>
<rect x="167" y="414" width="19" height="14" fill="#AFFF50"/>
<rect x="186" y="414" width="18" height="14" fill="#008FFF"/>
<rect x="204" y="414" width="18" height="14" fill="#FF4000"/>
<rect x="222" y="414" width="19" height="14" fill="#10FFEF"/>
<rect x="241" y="414" width="18" height="14" fill="#009FFF"/>
<rect x="259" y="414" width="37" height="14" fill="#0040FF"/>
<rect x="296" y="414" width="18" height="14" fill="#30FFCF"/>
<rect x="314" y="414" width="19" height="14" fill="#00FFFF"/>
<rect x="333" y="414" width="18" height="14" fill="#0000EF"/>
<rect x="351" y="414" width="18" height="14" fill="#00AFFF"/>
<rect x="369" y="414" width="19" height="14" fill="#00CFFF"/>
<rect x="388" y="414" width="18" height="14" fill="#10FFEF"/>
<rect x="406" y="414" width="37" height="14" fill="#0070FF"/>
<rect x="443" y="414" width="18" height="14" fill="#FF6000"/>
<rect x="461" y="414" width="37" height="14" fill="#009FFF"/>
<rect x="498" y="414" width="18" height="14" fill="#0070FF"/>
<rect x="516" y="414" width="18" height="14" fill="#00FFFF"/>
<rect x="534" y="414" width="19" height="14" fill="#00BFFF"/>
<rect x="553" y="414" width="19" height="14" fill="#008FFF"/>
<rect x="94" y="428" width="18" height="13" fill="#0070FF"/>
<rect x="112" y="428" width="19" height="13" fill="#00EFFF"/>
<rect x="131" y="428" width="18" height="13" fill="#80FF80"/>
<rect x="149" y="428" width="18" height="13" fill="#FFDF00"/>
<rect x="167" y="428" width="19" height="13" fill="#0000FF"/>
<rect x="186" y="428" width="18" height="13" fill="#DFFF20"/>
<rect x="204" y="428" width="18" height="13" fill="#00DFFF"/>
<rect x="222" y="428" width="19" height="13" fill="#EFFF10"/>
<rect x="241" y="428" width="18" height="13" fill="#00CFFF"/>
<rect x="259" y="428" width="18" height="13" fill="#0080FF"/>
<rect x="277" y="428" width="19" height="13" fill="#0040FF"/>
<rect x="296" y="428" width="18" height="13" fill="#009FFF"/>
<rect x="314" y="428" width="19" height="13" fill="#00EFFF"/>
<rect x="333" y="428" width="18" height="13" fill="#FFCF00"/>
<rect x="351" y="428" width="37" height="13" fill="#00AFFF"/>
<rect x="388" y="428" width="18" height="13" fill="#00FFFF"/>
<rect x="406" y="428" width="18" height="13" fill="#0070FF"/>
<rect x="424" y="428" width="19" height="13" fill="#0060FF"/>
<rect x="443" y="428" width="18" height="13" fill="#00BFFF"/>
<rect x="461" y="428" width="18" height="13" fill="#0030FF"/>
<rect x="479" y="428" width="19" height="13" fill="#0070FF"/>
<rect x="498" y="428" width="18" height="13" fill="#00DFFF"/>
<rect x="516" y="428" width="18" height="13" fill="#008FFF"/>
<rect x="534" y="428" width="19" height="13" fill="#0040FF"/>
<rect x="553" y="428" width="19" height="13" fill="#00BFFF"/>
<rect x="94" y="441" width="18" height="13" fill="#20FFDF"/>
<rect x="112" y="441" width="19" height="13" fill="#10FFEF"/>
<rect x="131" y="441" width="18" height="13" fill="#80FF80"/>
<rect x="149" y="441" width="18" height="13" fill="#009FFF"/>
<rect x="167" y="441" width="19" height="13" fill="#008FFF"/>
<rect x="186" y="441" width="18" height="13" fill="#EFFF10"/>
<rect x="204" y="441" width="18" height="13" fill="#008FFF"/>
<rect x="222" y="441" width="19" height="13" fill="#009FFF"/>
<rect x="241" y="441" width="18" height="13" fill="#40FFBF"/>
<rect x="259" y="441" width="18" height="13" fill="#0060FF"/>
<rect x="277" y="441" width="19" height="13" fill="#0040FF"/>
<rect x="296" y="441" width="18" height="13" fill="#00AFFF"/>
<rect x="314" y="441" width="19" height="13" fill="#00CFFF"/>
<rect x="333" y="441" width="18" height="13" fill="#9FFF60"/>
<rect x="351" y="441" width="18" height="13" fill="#00FFFF"/>
<rect x="369" y="441" width="19" height="13" fill="#008FFF"/>
<rect x="388" y="441" width="18" height="13" fill="#0050FF"/>
<rect x="406" y="441" width="18" height="13" fill="#009FFF"/>
<rect x="424" y="441" width="19" height="13" fill="#10FFEF"/>
<rect x="443" y="441" width="18" height="13" fill="#0040FF"/>
<rect x="461" y="441" width="18" height="13" fill="#0030FF"/>
<rect x="479" y="441" width="19" height="13" fill="#0050FF"/>
<rect x="498" y="441" width="18" height="13" fill="#FFDF00"/>
<rect x="516" y="441" width="18" height="13" fill="#009FFF"/>
<rect x="534" y="441" width="19" height="13" fill="#008FFF"/>
<rect x="553" y="441" width="19" height="13" fill="#009FFF"/>
<rect x="94" y="454" width="18" height="14" fill="#0070FF"/>
<rect x="112" y="454" width="37" height="14" fill="#00AFFF"/>
<rect x="149" y="454" width="18" height="14" fill="#40FFBF"/>
<rect x="167" y="454" width="19" height="14" fill="#0080FF"/>
<rect x="186" y="454" width="18" height="14" fill="#AFFF50"/>
<rect x="204" y="454" width="18" height="14" fill="#00CFFF"/>
<rect x="222" y="454" width="19" height="14" fill="#009FFF"/>
<rect x="241" y="454" width="18" height="14" fill="#20FFDF"/>
<rect x="259" y="454" width="18" height="14" fill="#10FFEF"/>
<rect x="277" y="454" width="19" height="14" fill="#0070FF"/>
<rect x="296" y="454" width="18" height="14" fill="#0000EF"/>
<rect x="314" y="454" width="19" height="14" fill="#0060FF"/>
<rect x="333" y="454" width="18" height="14" fill="#FF7000"/>
<rect x="351" y="454" width="18" height="14" fill="#FF8F00"/>
<rect x="369" y="454" width="19" height="14" fill="#0000FF"/>
<rect x="388" y="454" width="18" height="14" fill="#0050FF"/>
<rect x="406" y="454" width="18" height="14" fill="#FFBF00"/>
<rect x="424" y="454" width="19" height="14" fill="#00CFFF"/>
<rect x="443" y="454" width="18" height="14" fill="#00AFFF"/>
<rect x="461" y="454" width="18" height="14" fill="#0060FF"/>
<rect x="479" y="454" width="19" height="14" fill="#00BFFF"/>
<rect x="498" y="454" width="18" height="14" fill="#50FFAF"/>
<rect x="516" y="454" width="37" height="14" fill="#0040FF"/>
<rect x="553" y="454" width="19" height="14" fill="#00BFFF"/>
<rect x="94" y="468" width="18" height="14" fill="#20FFDF"/>
<rect x="112" y="468" width="19" height="14" fill="#00AFFF"/>
<rect x="131" y="468" width="18" height="14" fill="#0010FF"/>
<rect x="149" y="468" width="37" height="14" fill="#00DFFF"/>
<rect x="186" y="468" width="18" height="14" fill="#CFFF30"/>
<rect x="204" y="468" width="18" height="14" fill="#00EFFF"/>
<rect x="222" y="468" width="19" height="14" fill="#0000FF"/>
<rect x="241" y="468" width="18" height="14" fill="#60FF9F"/>
<rect x="259" y="468" width="18" height="14" fill="#70FF8F"/>
<rect x="277" y="468" width="19" height="14" fill="#00BFFF"/>
<rect x="296" y="468" width="18" height="14" fill="#0040FF"/>
<rect x="314" y="468" width="19" height="14" fill="#0000AF"/>
<rect x="333" y="468" width="18" height="14" fill="#FF9F00"/>
<rect x="351" y="468" width="18" height="14" fill="#50FFAF"/>
<rect x="369" y="468" width="19" height="14" fill="#0060FF"/>
<rect x="388" y="468" width="18" height="14" fill="#20FFDF"/>
<rect x="406" y="468" width="18" height="14" fill="#009FFF"/>
<rect x="424" y="468" width="37" height="14" fill="#00CFFF"/>
<rect x="461" y="468" width="18" height="14" fill="#00EFFF"/>
<rect x="479" y="468" width="19" height="14" fill="#0080FF"/>
<rect x="498" y="468" width="18" height="14" fill="#30FFCF"/>
<rect x="516" y="468" width="18" height="14" fill="#008FFF"/>
<rect x="534" y="468" width="19" height="14" fill="#009FFF"/>
<rect x="553" y="468" width="19" height="14" fill="#00FFFF"/>
<path d="M94.5 41.5H571.5V481.5H94.5Z" fill="none" stroke="#000" stroke-width="1"/>
<path d="M176.5 481V476M176.5 42V46M268.5 481V476M268.5 42V46M360.5 481V476M360.5 42V46M451.5 481V476M451.5 42V46M543.5 481V476M543.5 42V46M95 101.5H99M571 101.5H566M95 167.5H99M571 167.5H566M95 234.5H99M571 234.5H566M95 301.5H99M571 301.5H566M95 367.5H99M571 367.5H566M95 434.5H99M571 434.5H566" fill="none" stroke="#000" stroke-width="1"/>
<rect x="599" y="474" width="42" height="8" fill="#00008F"/>
<rect x="599" y="467" width="42" height="7" fill="#00009F"/>
<rect x="599" y="460" width="42" height="7" fill="#0000AF"/>
<rect x="599" y="454" width="42" height="6" fill="#0000BF"/>
<rect x="599" y="447" width="42" height="7" fill="#0000CF"/>
<rect x="599" y="440" width="42" height="7" fill="#0000DF"/>
<rect x="599" y="433" width="42" height="7" fill="#0000EF"/>
<rect x="599" y="426" width="42" height="7" fill="#0000FF"/>
<rect x="599" y="419" width="42" height="7" fill="#0010FF"/>
<rect x="599" y="412" width="42" height="7" fill="#0020FF"/>
<rect x="599" y="405" width="42" height="7" fill="#0030FF"/>
<rect x="599" y="399" width="42" height="6" fill="#0040FF"/>
<rect x="599" y="392" width="42" height="7" fill="#0050FF"/>
<rect x="599" y="385" width="42" height="7" fill="#0060FF"/>
<rect x="599" y="378" width="42" height="7" fill="#0070FF"/>
<rect x="599" y="371" width="42" height="7" fill="#0080FF"/>
<rect x="599" y="364" width="42" height="7" fill="#008FFF"/>
<rect x="599" y="357" width="42" height="7" fill="#009FFF"/>
<rect x="599" y="350" width="42" height="7" fill="#00AFFF"/>
<rect x="599" y="344" width="42" height="6" fill="#00BFFF"/>
<rect x="599" y="337" width="42" height="7" fill="#00CFFF"/>
<rect x="599" y="330" width="42" height="7" fill="#00DFFF"/>
<rect x="599" y="323" width="42" height="7" fill="#00EFFF"/>
<rect x="599" y="316" width="42" height="7" fill="#00FFFF"/>
<rect x="599" y="309" width="42" height="7" fill="#10FFEF"/>
<rect x="599" y="302" width="42" height="7" fill="#20FFDF"/>
<rect x="599" y="295" width="42" height="7" fill="#30FFCF"/>
<rect x="599" y="289" width="42" height="6" fill="#40FFBF"/>
<rect x="599" y="282" width="42" height="7" fill="#50FFAF"/>
<rect x="599" y="275" width="42" height="7" fill="#60FF9F"/>
<rect x="599" y="268" width="42" height="7" fill="#70FF8F"/>
<rect x="599" y="261" width="42" height="7" fill="#80FF80"/>
<rect x="599" y="254" width="42" height="7" fill="#8FFF70"/>
<rect x="599" y="247" width="42" height="7" fill="#9FFF60"/>
<rect x="599" y="240" width="42" height="7" fill="#AFFF50"/>
<rect x="599" y="234" width="42" height="6" fill="#BFFF40"/>
<rect x="599" y="227" width="42" height="7" fill="#CFFF30"/>
<rect x="599" y="220" width="42" height="7" fill="#DFFF20"/>
<rect x="599" y="213" width="42" height="7" fill="#EFFF10"/>
<rect x="599" y="206" width="42" height="7" fill="#FFFF00"/>
<rect x="599" y="199" width="42" height="7" fill="#FFEF00"/>
<rect x="599" y="192" width="42" height="7" fill="#FFDF00"/>
<rect x="599" y="185" width="42" height="7" fill="#FFCF00"/>
<rect x="599" y="179" width="42" height="6" fill="#FFBF00"/>
<rect x="599" y="172" width="42" height="7" fill="#FFAF00"/>
<rect x="599" y="165" width="42" height="7" fill="#FF9F00"/>
<rect x="599" y="158" width="42" height="7" fill="#FF8F00"/>
<rect x="599" y="151" width="42" height="7" fill="#FF8000"/>
<rect x="599" y="144" width="42" height="7" fill="#FF7000"/>
<rect x="599" y="137" width="42" height="7" fill="#FF6000"/>
<rect x="599" y="130" width="42" height="7" fill="#FF5000"/>
<rect x="599" y="124" width="42" height="6" fill="#FF4000"/>
<rect x="599" y="117" width="42" height="7" fill="#FF3000"/>
<rect x="599" y="110" width="42" height="7" fill="#FF2000"/>
<rect x="599" y="103" width="42" height="7" fill="#FF1000"/>
<rect x="599" y="96" width="42" height="7" fill="#FF0000"/>
<rect x="599" y="89" width="42" height="7" fill="#EF0000"/>
<rect x="599" y="82" width="42" height="7" fill="#DF0000"/>
<rect x="599" y="75" width="42" height="7" fill="#CF0000"/>
<rect x="599" y="69" width="42" height="6" fill="#BF0000"/>
<rect x="599" y="62" width="42" height="7" fill="#AF0000"/>
<rect x="599" y="55" width="42" height="7" fill="#9F0000"/>
<rect x="599" y="48" width="42" height="7" fill="#8F0000"/>
<rect x="599" y="41" width="42" height="7" fill="#800000"/>
<path d="M599.5 41.5H640.5V481.5H599.5Z" fill="none" stroke="#000" stroke-width="1"/>
<path d="M600 42.5H604M640 42.5H635M600 111.5H604M640 111.5H635M600 181.5H604M640 181.5H635M600 251.5H604M640 251.5H635M600 321.5H604M640 321.5H635M600 391.5H604M640 391.5H635M600 460.5H604M640 460.5H635" fill="none" stroke="#000" stroke-width="1"/>
</svg>
<div class="t" id="title" style="left:134px;top:22px;font-size:12.3px;">Unreordered Data (standardized genes) - G14 Genes ordered by G1(S1)</div>
<div class="t rl" style="left:11px;top:42px;">80.cel</div>
<div class="t rl" style="left:11px;top:56px;">242.cel</div>
<div class="t rl" style="left:11px;top:69px;">129.cel</div>
<div class="t rl" style="left:11px;top:82px;">30.cel</div>
<div class="t rl" style="left:11px;top:96px;">574.cel</div>
<div class="t rl" style="left:11px;top:109px;">349.cel</div>
<div class="t rl" style="left:11px;top:122px;">1308.cel</div>
<div class="t rl" style="left:11px;top:136px;">1622R.ce</div>
<div class="t rl" style="left:11px;top:149px;">236.cel</div>
<div class="t rl" style="left:11px;top:162px;">300.cel</div>
<div class="t rl" style="left:11px;top:176px;">1430.cel</div>
<div class="t rl" style="left:11px;top:189px;">222.cel</div>
<div class="t rl" style="left:11px;top:202px;">390.cel</div>
<div class="t rl" style="left:11px;top:216px;">444.cel</div>
<div class="t rl" style="left:11px;top:229px;">ge205.ce</div>
<div class="t rl" style="left:11px;top:242px;">269.cel</div>
<div class="t rl" style="left:11px;top:256px;">356bis.c</div>
<div class="t rl" style="left:11px;top:269px;">1317.cel</div>
<div class="t rl" style="left:11px;top:282px;">90.cel</div>
<div class="t rl" style="left:11px;top:296px;">159.cel</div>
<div class="t rl" style="left:11px;top:309px;">428.cel</div>
<div class="t rl" style="left:11px;top:322px;">12.cel</div>
<div class="t rl" style="left:11px;top:336px;">547.cel</div>
<div class="t rl" style="left:11px;top:349px;">396.cel</div>
<div class="t rl" style="left:11px;top:362px;">157.cel</div>
<div class="t rl" style="left:11px;top:376px;">1399.cel</div>
<div class="t rl" style="left:11px;top:389px;">106.cel</div>
<div class="t rl" style="left:11px;top:402px;">458.cel</div>
<div class="t rl" style="left:11px;top:416px;">1497R.ce</div>
<div class="t rl" style="left:11px;top:429px;">1621.cel</div>
<div class="t rl" style="left:11px;top:442px;">345.cel</div>
<div class="t rl" style="left:11px;top:456px;">100R.cel</div>
<div class="t rl" style="left:11px;top:469px;">1437.cel</div>
<div class="t yt" style="right:630px;top:96px;">5</div>
<div class="t yt" style="right:630px;top:162px;">10</div>
<div class="t yt" style="right:630px;top:229px;">15</div>
<div class="t yt" style="right:630px;top:296px;">20</div>
<div class="t yt" style="right:630px;top:362px;">25</div>
<div class="t yt" style="right:630px;top:429px;">30</div>
<div class="t xt" style="left:176.26px;top:487px;transform:translateX(-50%);">5</div>
<div class="t xt" style="left:267.99px;top:487px;transform:translateX(-50%);">10</div>
<div class="t xt" style="left:359.72px;top:487px;transform:translateX(-50%);">15</div>
<div class="t xt" style="left:451.45px;top:487px;transform:translateX(-50%);">20</div>
<div class="t xt" style="left:543.18px;top:487px;transform:translateX(-50%);">25</div>
<div class="t cl" style="left:106.50px;top:499px;transform-origin:0 0;transform:rotate(90deg);">203180_</div>
<div class="t cl" style="left:124.50px;top:499px;transform-origin:0 0;transform:rotate(90deg);">203434_</div>
<div class="t cl" style="left:142.50px;top:499px;transform-origin:0 0;transform:rotate(90deg);">205619_</div>
<div class="t cl" style="left:161.50px;top:499px;transform-origin:0 0;transform:rotate(90deg);">231766_</div>
<div class="t cl" style="left:179.50px;top:499px;transform-origin:0 0;transform:rotate(90deg);">205431_</div>
<div class="t cl" style="left:197.50px;top:499px;transform-origin:0 0;transform:rotate(90deg);">204776_</div>
<div class="t cl" style="left:216.50px;top:499px;transform-origin:0 0;transform:rotate(90deg);">205430_</div>
<div class="t cl" style="left:234.50px;top:499px;transform-origin:0 0;transform:rotate(90deg);">205713_</div>
<div class="t cl" style="left:252.50px;top:499px;transform-origin:0 0;transform:rotate(90deg);">236035_</div>
<div class="t cl" style="left:271.50px;top:499px;transform-origin:0 0;transform:rotate(90deg);">205848_</div>
<div class="t cl" style="left:289.50px;top:499px;transform-origin:0 0;transform:rotate(90deg);">218499_</div>
<div class="t cl" style="left:307.50px;top:499px;transform-origin:0 0;transform:rotate(90deg);">235944_</div>
<div class="t cl" style="left:326.50px;top:499px;transform-origin:0 0;transform:rotate(90deg);">212414_</div>
<div class="t cl" style="left:344.50px;top:499px;transform-origin:0 0;transform:rotate(90deg);">213456_</div>
<div class="t cl" style="left:362.50px;top:499px;transform-origin:0 0;transform:rotate(90deg);">239468_</div>
<div class="t cl" style="left:381.50px;top:499px;transform-origin:0 0;transform:rotate(90deg);">244885_</div>
<div class="t cl" style="left:399.50px;top:499px;transform-origin:0 0;transform:rotate(90deg);">220014_</div>
<div class="t cl" style="left:417.50px;top:499px;transform-origin:0 0;transform:rotate(90deg);">220065_</div>
<div class="t cl" style="left:436.50px;top:499px;transform-origin:0 0;transform:rotate(90deg);">226834_</div>
<div class="t cl" style="left:454.50px;top:499px;transform-origin:0 0;transform:rotate(90deg);">232090_</div>
<div class="t cl" style="left:472.50px;top:499px;transform-origin:0 0;transform:rotate(90deg);">219837_</div>
<div class="t cl" style="left:491.50px;top:499px;transform-origin:0 0;transform:rotate(90deg);">226930_</div>
<div class="t cl" style="left:509.50px;top:499px;transform-origin:0 0;transform:rotate(90deg);">227070_</div>
<div class="t cl" style="left:528.50px;top:499px;transform-origin:0 0;transform:rotate(90deg);">217525_</div>
<div class="t cl" style="left:546.50px;top:499px;transform-origin:0 0;transform:rotate(90deg);">227850_</div>
<div class="t cl" style="left:564.50px;top:499px;transform-origin:0 0;transform:rotate(90deg);">229839_</div>
<div class="t" id="yl" style="left:57px;top:264px;font-size:12.35px;transform-origin:0 0;transform:rotate(-90deg) translateX(-50%);">Samples - S382</div>
<div class="t cb" style="left:643px;top:36px;">0.4</div>
<div class="t cb" style="left:643px;top:106px;">0.3</div>
<div class="t cb" style="left:643px;top:176px;">0.2</div>
<div class="t cb" style="left:643px;top:246px;">0.1</div>
<div class="t cb" style="left:643px;top:316px;">0</div>
<div class="t cb" style="left:643px;top:386px;"><span style="position:relative;top:-1px;left:-0.5px;">-</span>0.1</div>
<div class="t cb" style="left:643px;top:455px;"><span style="position:relative;top:-1px;left:-0.5px;">-</span>0.2</div>
</div></body></html>
